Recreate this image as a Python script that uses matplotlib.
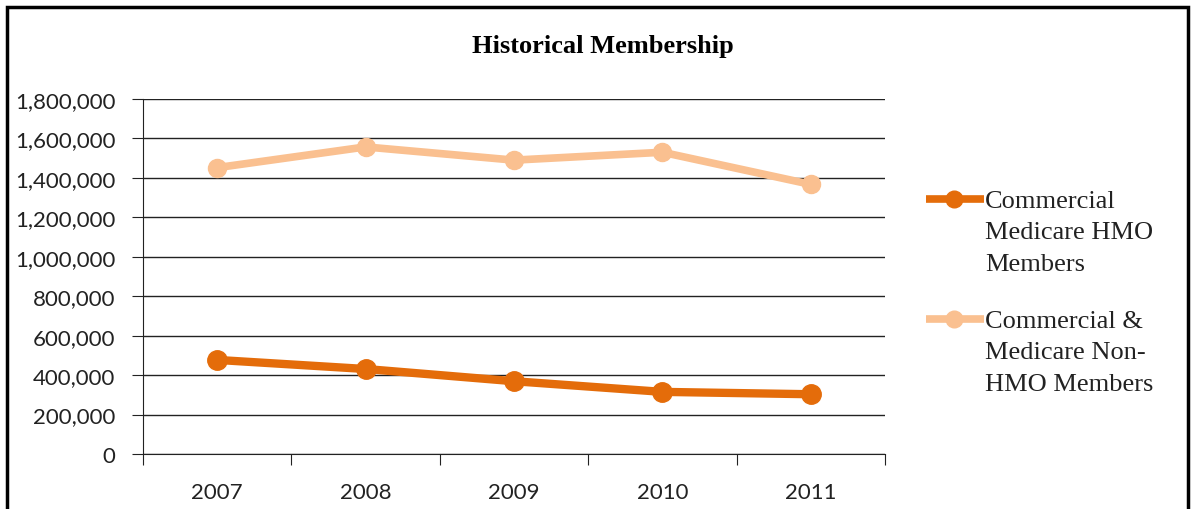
import matplotlib.pyplot as plt
from matplotlib.lines import Line2D
from matplotlib.patches import Rectangle
from matplotlib.ticker import FuncFormatter

# data
years = ["2007", "2008", "2009", "2010", "2011"]
hmo_members = [477000, 431000, 369000, 315000, 303000]
non_hmo_members = [1452000, 1557000, 1490000, 1530000, 1367000]
series_labels = ["Commercial\nMedicare HMO\nMembers",
                 "Commercial &\nMedicare Non-\nHMO Members"]
dark = "#E46C0A"
light = "#FAC090"

W, H = 1193, 510
fig = plt.figure(figsize=(W / 100, H / 100), dpi=100)
ax = fig.add_axes([143 / W, 55 / H, (885 - 143) / W, (455 - 100) / H])

x = list(range(len(years)))
ax.plot(x, non_hmo_members, color=light, lw=5.5, marker="o", ms=13, zorder=3)
ax.plot(x, hmo_members, color=dark, lw=6, marker="o", ms=14, zorder=4)

ax.set_xlim(-0.5, len(years) - 0.5)
ax.set_ylim(0, 1800000)
ax.set_yticks(range(0, 1800001, 200000))
ax.yaxis.set_major_formatter(FuncFormatter(lambda v, p: f"{int(v):,}"))
ax.set_xticks([i - 0.5 for i in range(len(years) + 1)])
ax.set_xticklabels([])
ax.set_xticks(x, minor=True)
ax.set_xticklabels(years, minor=True)
ax.tick_params(axis="x", which="minor", length=0, pad=20)
ax.tick_params(axis="x", which="major", length=8, direction="out", color="#222222")
ax.tick_params(axis="y", length=8, direction="out", color="#222222", pad=12)
for lab in ax.get_xticklabels(minor=True) + ax.get_yticklabels():
    lab.set_fontfamily("Lato")
    lab.set_fontsize(16)
    lab.set_color("#222222")

ax.grid(axis="y", color="#222222", lw=1.0)
ax.set_axisbelow(True)
for s in ["top", "right"]:
    ax.spines[s].set_visible(False)
ax.spines["left"].set_color("#222222")
ax.spines["bottom"].set_color("#222222")

fig.text(603 / W, 1 - 47 / H, "Historical Membership", ha="center", va="center",
         fontfamily="Liberation Serif", fontweight="bold", fontsize=19)

# legend drawn by hand to keep the Excel look
leg_y = [200, 320]
for yy, c, lab in zip(leg_y, [dark, light], series_labels):
    fig.add_artist(Line2D([926 / W, 984 / W], [1 - yy / H] * 2, color=c, lw=5.5,
                          solid_capstyle="butt"))
    fig.add_artist(Line2D([954 / W], [1 - yy / H], color=c, marker="o", ms=12))
    fig.text(985 / W, 1 - (yy - 9) / H, lab, ha="left", va="top",
             fontfamily="Liberation Serif", fontsize=19, linespacing=1.55,
             color="#222222")

fig.add_artist(Rectangle((7 / W, -0.01), (1188 - 7) / W, 1 - 8 / H + 0.01,
                         fill=False, ec="black", lw=2.5, transform=fig.transFigure))

fig.savefig("out.png", dpi=100)
